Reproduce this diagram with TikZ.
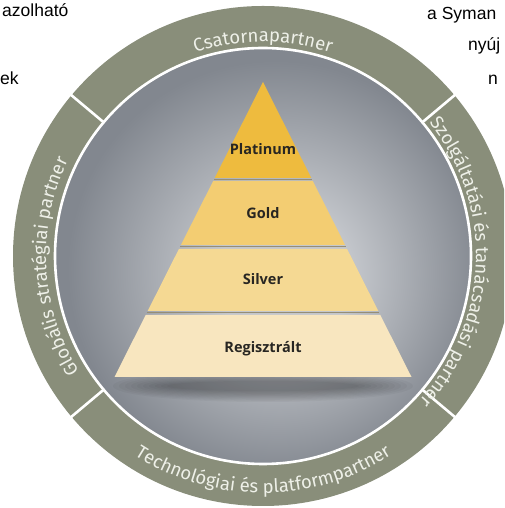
\documentclass[tikz,border=0pt]{standalone}
\usepackage{fontspec}
\usetikzlibrary{decorations.text}
\newfontfamily\ringfont{Fira Sans}
\newfontfamily\tierfont{Open Sans}
\newfontfamily\pagefont{Liberation Sans}

\definecolor{ringgreen}{RGB}{137,142,122}
\definecolor{ringtext}{RGB}{238,240,232}
\definecolor{discin}{RGB}{196,199,204}
\definecolor{discout}{RGB}{130,135,143}
\definecolor{platinum}{RGB}{238,187,62}
\definecolor{gold}{RGB}{243,205,114}
\definecolor{silver}{RGB}{245,217,147}
\definecolor{regist}{RGB}{248,230,191}
\definecolor{tiertext}{RGB}{40,38,34}
\definecolor{gapline}{RGB}{150,142,118}

\pgfdeclareradialshading{discshade}{\pgfpoint{3bp}{-3bp}}{color(0bp)=(discin); color(8bp)=(discin); color(25bp)=(discout); color(50bp)=(discout)}

\tikzset{
  tier/.style={font=\tierfont\bfseries\fontsize{14.5}{16}\selectfont, text=tiertext, anchor=base},
  pagetext/.style={font=\pagefont\fontsize{17.5}{20}\selectfont, anchor=base west, inner sep=0pt},
  ringlabel/.style={decorate, decoration={text along path, text align=center,
      text={|\ringfont\fontsize{18.5}{20}\selectfont\color{ringtext}|#1}}},
  separator/.style={white, line width=2.6pt},
}

\begin{document}
\begin{tikzpicture}[x=1pt, y=1pt]
	\useasboundingbox (0,0) rectangle (504,508);
	\clip (0,0) rectangle (504,508);
	\coordinate (c) at (263,252);

	% ring and disc
	\fill [ringgreen, even odd rule] (c) circle (250) (c) circle (208);
	\shade [shading=discshade] (c) circle (208);
	\draw [white, line width=2.6pt] (c) circle (208);
	\foreach \a in {40,140,220,320}
		\draw [separator] (c) ++(\a:207) -- ++(\a:46);

	\path [ringlabel={Csatornapartner}] (c) ++(140:214) arc [start angle=140, end angle=40, radius=214];
	\path [ringlabel={Szolgáltatási és tanácsadási partner}] (c) ++(40:213) arc [start angle=40, end angle=-44, radius=213];
	\path [ringlabel={Technológiai és platformpartner}] (c) ++(220:237) arc [start angle=220, end angle=320, radius=237];
	\path [ringlabel={Globális stratégiai partner}] (c) ++(226:217) arc [start angle=226, end angle=140, radius=217];

	% pyramid
	\foreach \i in {0,...,9}
		\fill [black, opacity=0.035] (263,122) ellipse ({150-\i*6} and {16-\i*1.2});
	\fill [platinum] (263,426) -- (311.3,330) -- (214.7,330) -- cycle;
	\fill [gold] (213.2,327) -- (312.8,327) -- (345.1,263) -- (180.9,263) -- cycle;
	\fill [silver] (178.9,259) -- (347.1,259) -- (378.3,197) -- (147.7,197) -- cycle;
	\fill [regist] (145.7,193) -- (380.3,193) -- (411.5,131) -- (114.5,131) -- cycle;
	\draw [gapline, line width=1pt] (214,328.5) -- (312,328.5);
	\draw [gapline, line width=1pt] (180,261) -- (346,261);
	\draw [gapline, line width=1pt] (147,195) -- (379,195);

	\node [tier] (platinum) at (263,353) {Platinum};
	\node [tier] (gold) at (263,289) {Gold};
	\node [tier] (silver) at (263,223) {Silver};
	\node [tier] (regisztralt) at (263,155) {Regisztrált};

	% page text around
	\node [pagetext] (azolhato) at (2,491) {azolható};
	\node [pagetext] (ek) at (0,423) {ek};
	\node [pagetext] (symantec) at (427,488) {a Syman};
	\node [pagetext] (nyujt) at (468,457) {nyúj};
	\node [pagetext] (nline) at (488,423) {n};
\end{tikzpicture}
\end{document}
